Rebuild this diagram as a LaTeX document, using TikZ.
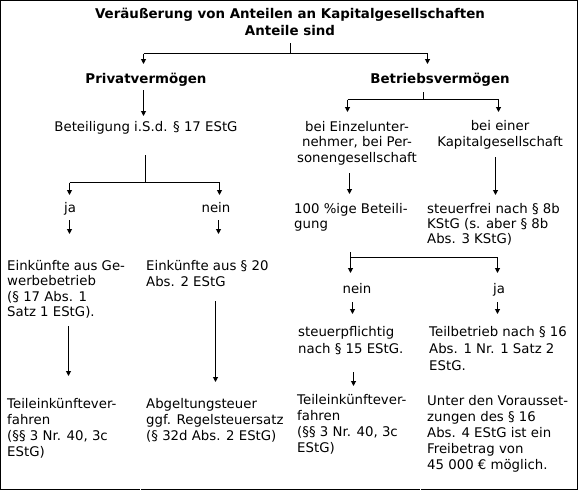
\documentclass[tikz,border=0pt]{standalone}
\usepackage{fontspec}
\setmainfont{DejaVu Sans}
\usetikzlibrary{arrows.meta}
\begin{document}
\begin{tikzpicture}[x=1pt,y=-1pt,
  txt/.style={font=\fontsize{13.3}{16}\selectfont, inner sep=0pt, align=left, anchor=base west},
  ctxt/.style={font=\fontsize{13.3}{16}\selectfont, inner sep=0pt, align=center, anchor=base},
  hd/.style={font=\fontsize{13.4}{16.6}\selectfont\bfseries, inner sep=0pt, align=center, anchor=base},
  ln/.style={line width=1pt},
  arr/.style={line width=1pt, -{Triangle[width=5pt,length=5pt]}}]
\useasboundingbox (0,0) rectangle (579,491);
% frame
\draw[ln] (0.5,489.5) -- (0.5,0.5) -- (577.5,0.5) -- (577.5,489.5);
\draw[ln] (0,489.5) -- (139.5,489.5);
\draw[ln] (140.5,489.5) -- (419.5,489.5);
\draw[ln] (420.5,489.5) -- (578,489.5);
% texts (multi-line nodes are anchored at the baseline of their last line)
\node[hd] (title) at (290,35) {Veräußerung von Anteilen an Kapitalgesellschaften\\Anteile sind};
\node[hd] (pv) at (146,83.5) {Privatvermögen};
\node[hd] (bv) at (440,83.5) {Betriebsvermögen};
\node[ctxt] (bet) at (146,131.7) {Beteiligung i.S.d. § 17 EStG};
\node[ctxt] (ja1) at (70,212.3) {ja};
\node[ctxt] (nein1) at (216,212.3) {nein};
\node[txt, font=\fontsize{13.3}{15.5}\selectfont] (ek1) at (7,316.5) {Einkünfte aus Ge-\\werbebetrieb\\(§ 17 Abs. 1\\Satz 1 EStG).};
\node[txt] (ek2) at (146,286) {Einkünfte aus § 20\\Abs. 2 EStG};
\node[txt] (te1) at (7,456.6) {Teileinkünftever-\\fahren\\(§§ 3 Nr. 40, 3c\\EStG)};
\node[txt] (ab) at (146,440.5) {Abgeltungsteuer\\ggf. Regelsteuersatz\\(§ 32d Abs. 2 EStG)};
\node[ctxt, font=\fontsize{13.3}{15.8}\selectfont] (eu) at (357,162.7) {bei Einzelunter-\\nehmer, bei Per-\\sonengesellschaft};
\node[ctxt, font=\fontsize{13.3}{15.8}\selectfont] (kg) at (500,146.7) {bei einer\\Kapitalgesellschaft};
\node[txt, font=\fontsize{13.3}{15}\selectfont] (hb) at (294,228.3) {100 \%ige Beteili-\\gung};
\node[txt, font=\fontsize{13.3}{15}\selectfont] (sf) at (427,243) {steuerfrei nach § 8b\\KStG (s. aber § 8b\\Abs. 3 KStG)};
\node[ctxt] (nein2) at (357,293.3) {nein};
\node[ctxt] (ja2) at (499,293.3) {ja};
\node[txt, font=\fontsize{13.3}{16.6}\selectfont] (sp) at (298,353.3) {steuerpflichtig\\nach § 15 EStG.};
\node[txt, font=\fontsize{13.3}{16.6}\selectfont] (tb) at (429,370) {Teilbetrieb nach § 16\\Abs. 1 Nr. 1 Satz 2\\EStG.};
\node[txt] (te2) at (297,452.5) {Teileinkünftever-\\fahren\\(§§ 3 Nr. 40, 3c\\EStG)};
\node[txt] (uv) at (427,469) {Unter den Vorausset-\\zungen des § 16\\Abs. 4 EStG ist ein\\Freibetrag von\\45~000 € möglich.};
% connectors
\coordinate (c0) at (290.5,43);
\coordinate (c1) at (290.5,53.5);
\coordinate (c1l) at (143.5,53.5);
\coordinate (c1r) at (427.5,53.5);
\draw[ln] (c0) -- (c1);
\draw[ln] (c1l) -- (c1r);
\draw[arr] (c1l) -- (143.5,64);
\draw[arr] (c1r) -- (427.5,64);
\draw[arr] (143.5,90) -- (143.5,116);
\coordinate (c2) at (145.5,155);
\coordinate (c2m) at (145.5,182.5);
\coordinate (c2l) at (69.5,182.5);
\coordinate (c2r) at (219.5,182.5);
\draw[ln] (c2) -- (c2m);
\draw[ln] (c2l) -- (c2r);
\draw[arr] (c2l) -- (69.5,195);
\draw[arr] (c2r) -- (219.5,195);
\draw[arr] (69.5,220) -- (69.5,234);
\draw[arr] (218.5,220) -- (218.5,234);
\draw[arr] (68.5,326) -- (68.5,376);
\draw[arr] (215.5,301) -- (215.5,382);
\coordinate (c3) at (423.5,92);
\coordinate (c3m) at (423.5,99.5);
\coordinate (c3l) at (347.5,99.5);
\coordinate (c3r) at (498.5,99.5);
\draw[ln] (c3) -- (c3m);
\draw[ln] (c3l) -- (c3r);
\draw[arr] (c3l) -- (347.5,112);
\draw[arr] (c3r) -- (498.5,112);
\draw[arr] (349.5,173) -- (349.5,194);
\draw[arr] (495.5,157) -- (495.5,195);
\coordinate (c4) at (350.5,252);
\coordinate (c4l) at (350.5,257.5);
\coordinate (c4r) at (497.5,257.5);
\draw[arr] (c4) -- (350.5,273);
\draw[ln] (c4l) -- (c4r);
\draw[arr] (c4r) -- (497.5,273);
\draw[arr] (352.5,302) -- (352.5,314);
\draw[arr] (497.5,302) -- (497.5,314);
\draw[arr] (353.5,372) -- (353.5,386);
\end{tikzpicture}
\end{document}
